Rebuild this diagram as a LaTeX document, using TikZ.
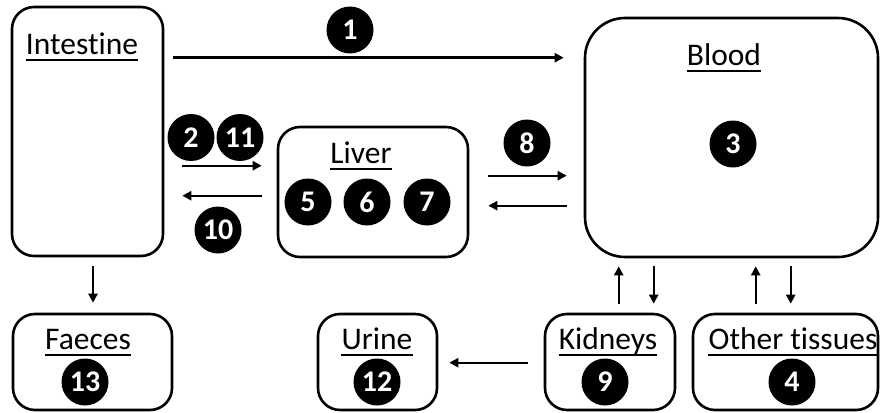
\documentclass[tikz,border=0pt]{standalone}
\usepackage{fontspec}
\setmainfont{Carlito}[Ligatures=NoCommon]
\usetikzlibrary{arrows.meta,calc}
\begin{document}
\begin{tikzpicture}[x=1pt,y=-1pt,
  organ/.style={draw,line width=2.6pt,rounded corners=22pt,inner sep=0pt},
  badge/.style={circle,fill=black,text=white,inner sep=0pt,minimum size=47pt,font=\fontsize{30}{30}\selectfont\bfseries},
  lbl/.style={inner sep=0pt,anchor=base,font=\fontsize{31.5}{31.5}\selectfont},
  arr/.style={line width=2.4pt,-{Triangle[length=9pt,width=9pt]}},
  uline/.style={line width=2pt}]
\useasboundingbox (0,0) rectangle (880,412);
% organ boxes
\node[organ,minimum width=151pt,minimum height=249pt] (intestine) at (87.5,131.5) {};
\node[organ,rounded corners=40pt,minimum width=293pt,minimum height=239pt] (blood) at (731.5,137.5) {};
\node[organ,minimum width=190pt,minimum height=130pt] (liver) at (373,192) {};
\node[organ,minimum width=159pt,minimum height=96pt] (faeces) at (92.5,362) {};
\node[organ,minimum width=119pt,minimum height=96pt] (urine) at (377.5,362) {};
\node[organ,minimum width=130pt,minimum height=96pt] (kidneys) at (610,362) {};
\node[organ,minimum width=185pt,minimum height=96pt] (other) at (785.5,362) {};
% underlined labels
\foreach \nm/\x/\y/\t in {tint/82/55/Intestine, tblood/724/65/Blood, tliver/361/163/Liver,
  tfaeces/88/349/Faeces, turine/377/349/Urine, tkid/608/349/Kidneys, tother/793/349/Other tissues}{
  \node[lbl] (\nm) at (\x,\y) {\t};
  \draw[uline] ([yshift=-5.5pt]\nm.base west) -- ([yshift=-5.5pt]\nm.base east);
}
% badges
\node[badge] (b1) at (350,30) {1};
\node[badge] (b2) at (191,137.5) {2};
\node[badge] (b11) at (240,137.5) {11};
\node[badge] (b10) at (218,230) {10};
\node[badge] (b5) at (308,202) {5};
\node[badge] (b6) at (367,202) {6};
\node[badge] (b7) at (427,202) {7};
\node[badge] (b8) at (527,143) {8};
\node[badge] (b3) at (733,144) {3};
\node[badge] (b13) at (85,382) {13};
\node[badge] (b12) at (377,382) {12};
\node[badge] (b9) at (605,382) {9};
\node[badge] (b4) at (792,382) {4};
% connectors
\draw[arr] ($(intestine.north east)+(9,52)$) -- ($(blood.north west)+(-20,41)$);
\draw[arr] ($(intestine.north east)+(18,160)$) -- ($(liver.north west)+(-15,40)$);
\draw[arr] ($(liver.north west)+(-15,70)$) -- ($(intestine.north east)+(18,190)$);
\draw[arr] ($(liver.north east)+(19,50)$) -- ($(blood.north west)+(-17,159)$);
\draw[arr] ($(blood.north west)+(-17,189)$) -- ($(liver.north east)+(19,80)$);
\draw[arr] ($(intestine.south)+(5.5,9)$) -- ($(faeces.north)+(0.5,-10)$);
\draw[arr] ($(kidneys.north west)+(-16,50)$) -- ($(urine.north east)+(11,50)$);
\draw[arr] ($(kidneys.north west)+(75,-9)$) -- ($(blood.south west)+(35,8)$);
\draw[arr] ($(blood.south west)+(70,8)$) -- ($(kidneys.north west)+(110,-9)$);
\draw[arr] ($(other.north west)+(64,-9)$) -- ($(blood.south west)+(172,8)$);
\draw[arr] ($(blood.south west)+(207,8)$) -- ($(other.north west)+(99,-9)$);
\end{tikzpicture}
\end{document}
